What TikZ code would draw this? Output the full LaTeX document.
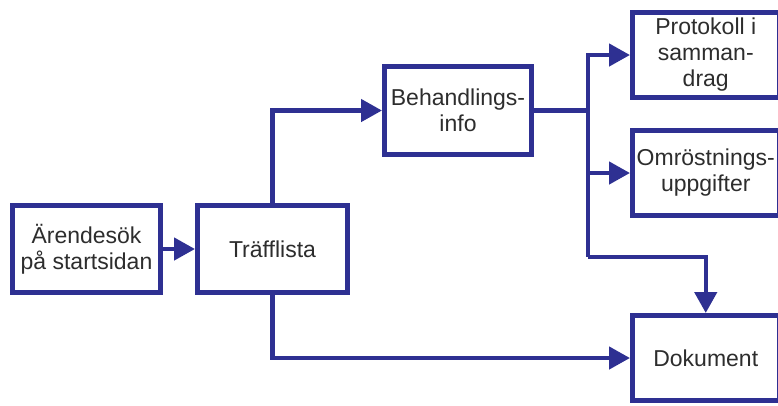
\documentclass[tikz,border=0pt]{standalone}
\usepackage{fontspec}
\setmainfont{Liberation Sans}
\usetikzlibrary{arrows.meta}
\definecolor{dblue}{RGB}{46,48,146}
\definecolor{txt}{RGB}{45,45,45}
\begin{document}
\begin{tikzpicture}[x=1pt,y=-1pt,
  box/.style={draw=dblue,line width=5pt,fill=white,rectangle,align=center,
    text=txt,font=\fontsize{23}{26}\selectfont,inner sep=0pt},
  conn/.style={draw=dblue,line width=4.5pt},
  arr/.style={conn,-{Triangle[length=21pt,width=22pt]}}]
\useasboundingbox (0,0) rectangle (778,405);
\clip (0,0) rectangle (778,405);
\fill[white] (0,0) rectangle (778,405);
\node[box,minimum width=148pt,minimum height=87pt] (A) at (86.5,249) {Ärendesök\\på startsidan};
\node[box,minimum width=150pt,minimum height=87pt] (T) at (272.5,249) {Träfflista};
\node[box,minimum width=147pt,minimum height=88pt] (B) at (458,110.5) {Behandlings-\\info};
\node[box,minimum width=146.5pt,minimum height=85pt] (P) at (705.75,55) {Protokoll i\\samman-\\drag};
\node[box,minimum width=146.5pt,minimum height=85pt] (O) at (705.75,173) {Omröstnings-\\uppgifter};
\node[box,minimum width=146.5pt,minimum height=85pt] (D) at (705.75,358) {Dokument};
\coordinate (j) at (588,110.5);
\coordinate (k) at (588,257);
\draw[arr] (A.east) -- (T.west);
\draw[arr] (T.north) |- (B.west);
\draw[arr] (T.south) |- (D.west);
\draw[conn] (B.east) -- (j);
\draw[arr] (j) |- (P.west);
\draw[arr] (j) |- (O.west);
\draw[conn] (j) -- (k);
\draw[arr] (k) -| (D.north);
\end{tikzpicture}
\end{document}
